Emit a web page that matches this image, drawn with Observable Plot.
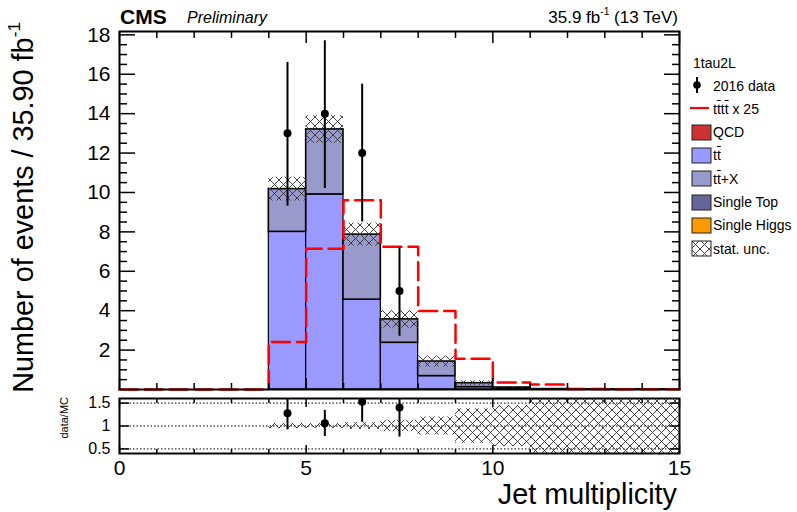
<!DOCTYPE html>
<html>
<head>
<meta charset="utf-8">
<script src="https://cdn.jsdelivr.net/npm/d3@7"></script>
<script src="https://cdn.jsdelivr.net/npm/@observablehq/plot@0.6"></script>
<style>
  body { margin: 0; background: #fff; font-family: "Liberation Sans", Arial, Helvetica, sans-serif; }
  #wrap { position: relative; width: 797px; height: 512px; overflow: hidden; background: #fff; }
  .abs { position: absolute; white-space: nowrap; line-height: 1; }
  .sup { font-size: 0.6em; vertical-align: 0.75em; line-height: 0; }
  .ov { text-decoration: overline; }
  .leg { position: absolute; font-size: 14px; line-height: 1; white-space: nowrap; left: 713px; }
  .sw { position: absolute; }
</style>
</head>
<body>
<div id="wrap">
  <svg width="0" height="0" style="position:absolute">
    <defs>
      <pattern id="xhatch" patternUnits="userSpaceOnUse" width="9" height="9">
        <path d="M0,0L9,9M9,0L0,9" stroke="#333" stroke-width="0.9" fill="none"/>
      </pattern>
    </defs>
  </svg>
  <div id="main" class="abs" style="left:0;top:0"></div>
  <div id="ratio" class="abs" style="left:0;top:392px"></div>

  <div class="abs" style="left:120px;top:6px;font-size:21px;font-weight:bold;">CMS</div>
  <div class="abs" style="left:187px;top:10px;font-size:16px;font-style:italic;">Preliminary</div>
  <div class="abs" style="right:119px;top:9px;font-size:17px;">35.9 fb<span class="sup">-1</span> (13 TeV)</div>

  <div class="abs" style="left:0;top:0;font-size:28.8px;transform-origin:0 0;transform:translate(9px,22px) rotate(-90deg) translateX(-100%);">Number of events / 35.90 fb<span class="sup">-1</span></div>
  <div class="abs" style="left:0;top:0;font-size:11px;transform-origin:0 0;transform:translate(59px,397px) rotate(-90deg) translateX(-100%);">data/MC</div>
  <div class="abs" style="right:120px;top:480px;font-size:28.8px;">Jet multiplicity</div>

  <div id="legend"></div>
</div>
<script>
// ---- data ----
const binLow   = [0, 1, 2, 3, 4, 5, 6, 7, 8, 9, 10, 11, 12, 13, 14];
const ttbar    = [0, 0, 0, 0, 8.0, 9.9, 4.56, 2.37, 0.68, 0.12, 0.04, 0.01, 0.006, 0.004, 0.003];
const ttX      = [0, 0, 0, 0, 2.17, 3.3, 3.3, 1.19, 0.74, 0.2, 0.06, 0.01, 0.006, 0.004, 0.003];
const statUnc  = [0, 0, 0, 0, 0.6, 0.7, 0.58, 0.44, 0.28, 0.12, 0.045, 0.03, 0.02, 0.015, 0.012];
const signal25 = [0, 0, 0, 0, 2.41, 7.15, 9.61, 7.24, 3.98, 1.56, 0.35, 0.25, 0.02, 0.01, 0.01];

const dataBin  = [4, 5, 6, 7];
const dataVal  = [13, 14, 12, 5];
const dataLo   = [9.3, 10.2, 8.5, 2.7];
const dataHi   = [16.6, 17.7, 15.5, 7.2];

const yMajor = [2, 4, 6, 8, 10, 12, 14, 16, 18];
const yMinor = [0.5, 1, 1.5, 2.5, 3, 3.5, 4.5, 5, 5.5, 6.5, 7, 7.5, 8.5, 9, 9.5, 10.5, 11, 11.5, 12.5, 13, 13.5, 14.5, 15, 15.5, 16.5, 17, 17.5];
const xMajor = [0, 5, 10, 15];
const xMinor = [1, 2, 3, 4, 6, 7, 8, 9, 11, 12, 13, 14];
const rTicks = [0.5, 1, 1.5];

const colTT = "#9999ff", colTTX = "#9999cc", colST = "#666699", colQCD = "#cc3333", colSH = "#ff9900";
const font = "Liberation Sans, Arial, Helvetica, sans-serif";

// ---- derived tables ----
const rows = binLow.map((x, i) => ({
  x1: x, x2: x + 1, tt: ttbar[i], tot: ttbar[i] + ttX[i], unc: statUnc[i], sig: signal25[i]
}));
const mc = rows.filter(d => d.tot > 0);
const sigLine = rows.map(d => ({x: d.x1, y: d.sig})).concat([{x: 15, y: signal25[signal25.length - 1]}]);
const dataRows = dataBin.map((b, i) => {
  const tot = ttbar[b] + ttX[b];
  return {x: b + 0.5, y: dataVal[i], lo: dataLo[i], hi: dataHi[i], tot};
});

// inward ticks only (no labels)
const tickY = (anchor, ticks, size) => Plot.axisY({anchor, ticks, tickSize: -size, fill: "none", strokeWidth: 1.5, tickFormat: null});
const tickX = (anchor, ticks, size) => Plot.axisX({anchor, ticks, tickSize: -size, fill: "none", strokeWidth: 1.5, tickFormat: null});

const mainPlot = Plot.plot({
  width: 797, height: 392,
  marginLeft: 119, marginRight: 118, marginTop: 31, marginBottom: 3,
  style: {fontFamily: font, background: "transparent"},
  x: {domain: [0, 15], label: null},
  y: {domain: [0, 18.17], label: null},
  marks: [
    Plot.rect(mc, {x1: "x1", x2: "x2", y1: 0, y2: "tt", fill: colTT, stroke: "black", strokeWidth: 1.2}),
    Plot.rect(mc, {x1: "x1", x2: "x2", y1: "tt", y2: "tot", fill: colTTX, stroke: "black", strokeWidth: 1.6}),
    Plot.rect(mc, {x1: "x1", x2: "x2", y1: d => d.tot - d.unc, y2: d => d.tot + d.unc, fill: "url(#xhatch)"}),
    Plot.line(sigLine, {x: "x", y: "y", curve: "step-after", stroke: "#ff0000", strokeWidth: 2.5, strokeDasharray: "18,7"}),
    Plot.ruleX(dataRows, {x: "x", y1: "lo", y2: "hi", stroke: "black", strokeWidth: 2}),
    Plot.dot(dataRows, {x: "x", y: "y", r: 4, fill: "black", stroke: "none"}),
    Plot.axisY({anchor: "left", ticks: yMajor, tickSize: 0, tickPadding: 9, fontSize: 21, tickFormat: d => String(d), label: null}),
    tickY("left", yMajor, 16), tickY("left", yMinor, 8),
    tickY("right", yMajor, 16), tickY("right", yMinor, 8),
    tickX("top", xMajor, 11), tickX("top", xMinor, 6),
    tickX("bottom", xMajor, 11), tickX("bottom", xMinor, 6),
    Plot.frame({stroke: "black", strokeWidth: 2})
  ]
});
document.getElementById("main").appendChild(mainPlot);

const ratioPlot = Plot.plot({
  width: 797, height: 120,
  marginLeft: 119, marginRight: 118, marginTop: 6, marginBottom: 59,
  style: {fontFamily: font, background: "transparent"},
  x: {domain: [0, 15], label: null},
  y: {domain: [0.4, 1.6], label: null},
  marks: [
    Plot.ruleY(rTicks, {stroke: "black", strokeWidth: 1, strokeDasharray: "1.5,2"}),
    Plot.rect(mc, {x1: "x1", x2: "x2", y1: d => 1 - d.unc / d.tot, y2: d => 1 + d.unc / d.tot, fill: "url(#xhatch)", clip: true}),
    Plot.ruleX(dataRows, {x: "x", y1: d => d.lo / d.tot, y2: d => d.hi / d.tot, stroke: "black", strokeWidth: 2, clip: true}),
    Plot.dot(dataRows, {x: "x", y: d => d.y / d.tot, r: 4, fill: "black", stroke: "none", clip: true}),
    Plot.axisY({anchor: "left", ticks: rTicks, tickSize: 0, tickPadding: 9, fontSize: 16, tickFormat: d => String(d), label: null}),
    tickY("left", rTicks, 10), tickY("right", rTicks, 10),
    tickX("top", xMajor, 8), tickX("top", xMinor, 4),
    tickX("bottom", xMajor, 8), tickX("bottom", xMinor, 4),
    Plot.axisX({anchor: "bottom", ticks: xMajor, tickSize: 0, tickPadding: 7, fontSize: 21, tickFormat: d => String(d), label: null}),
    Plot.frame({stroke: "black", strokeWidth: 2})
  ]
});
document.getElementById("ratio").appendChild(ratioPlot);

// ---- legend ----
const legendTitle = "1tau2L";
const legendEntries = [
  {kind: "data", html: "2016 data"},
  {kind: "line", html: "t<span class='ov'>t</span>t<span class='ov'>t</span> x 25", color: "#ff0000"},
  {kind: "box", html: "QCD", color: colQCD},
  {kind: "box", html: "t<span class='ov'>t</span>", color: colTT},
  {kind: "box", html: "t<span class='ov'>t</span>+X", color: colTTX},
  {kind: "box", html: "Single Top", color: colST},
  {kind: "box", html: "Single Higgs", color: colSH},
  {kind: "hatch", html: "stat. unc."}
];
const leg = document.getElementById("legend");
const t0 = document.createElement("div");
t0.className = "leg"; t0.style.left = "693px"; t0.style.top = "55.5px"; t0.textContent = legendTitle;
leg.appendChild(t0);
legendEntries.forEach((e, i) => {
  const base = 90 + i * 23.3;
  const t = document.createElement("div");
  t.className = "leg"; t.style.top = (base - 11.5) + "px"; t.innerHTML = e.html;
  leg.appendChild(t);
  const cy = base - 5;
  let svg;
  if (e.kind === "data") {
    svg = `<svg class="sw" style="left:690px;top:${cy - 9}px" width="16" height="18"><line x1="7" x2="7" y1="1" y2="17" stroke="black" stroke-width="2"/><circle cx="7" cy="9" r="3.8" fill="black"/></svg>`;
  } else if (e.kind === "line") {
    svg = `<svg class="sw" style="left:689px;top:${cy - 4}px" width="22" height="8"><line x1="1" x2="20" y1="4" y2="4" stroke="${e.color}" stroke-width="2.2"/></svg>`;
  } else if (e.kind === "box") {
    svg = `<svg class="sw" style="left:691px;top:${cy - 8}px" width="21" height="17"><rect x="1" y="1" width="19" height="15" fill="${e.color}" stroke="#222" stroke-width="1"/></svg>`;
  } else {
    svg = `<svg class="sw" style="left:691px;top:${cy - 8}px" width="21" height="17"><rect x="1" y="1" width="19" height="15" fill="url(#xhatch)" stroke="#222" stroke-width="1"/></svg>`;
  }
  leg.insertAdjacentHTML("beforeend", svg);
});
</script>
</body>
</html>
